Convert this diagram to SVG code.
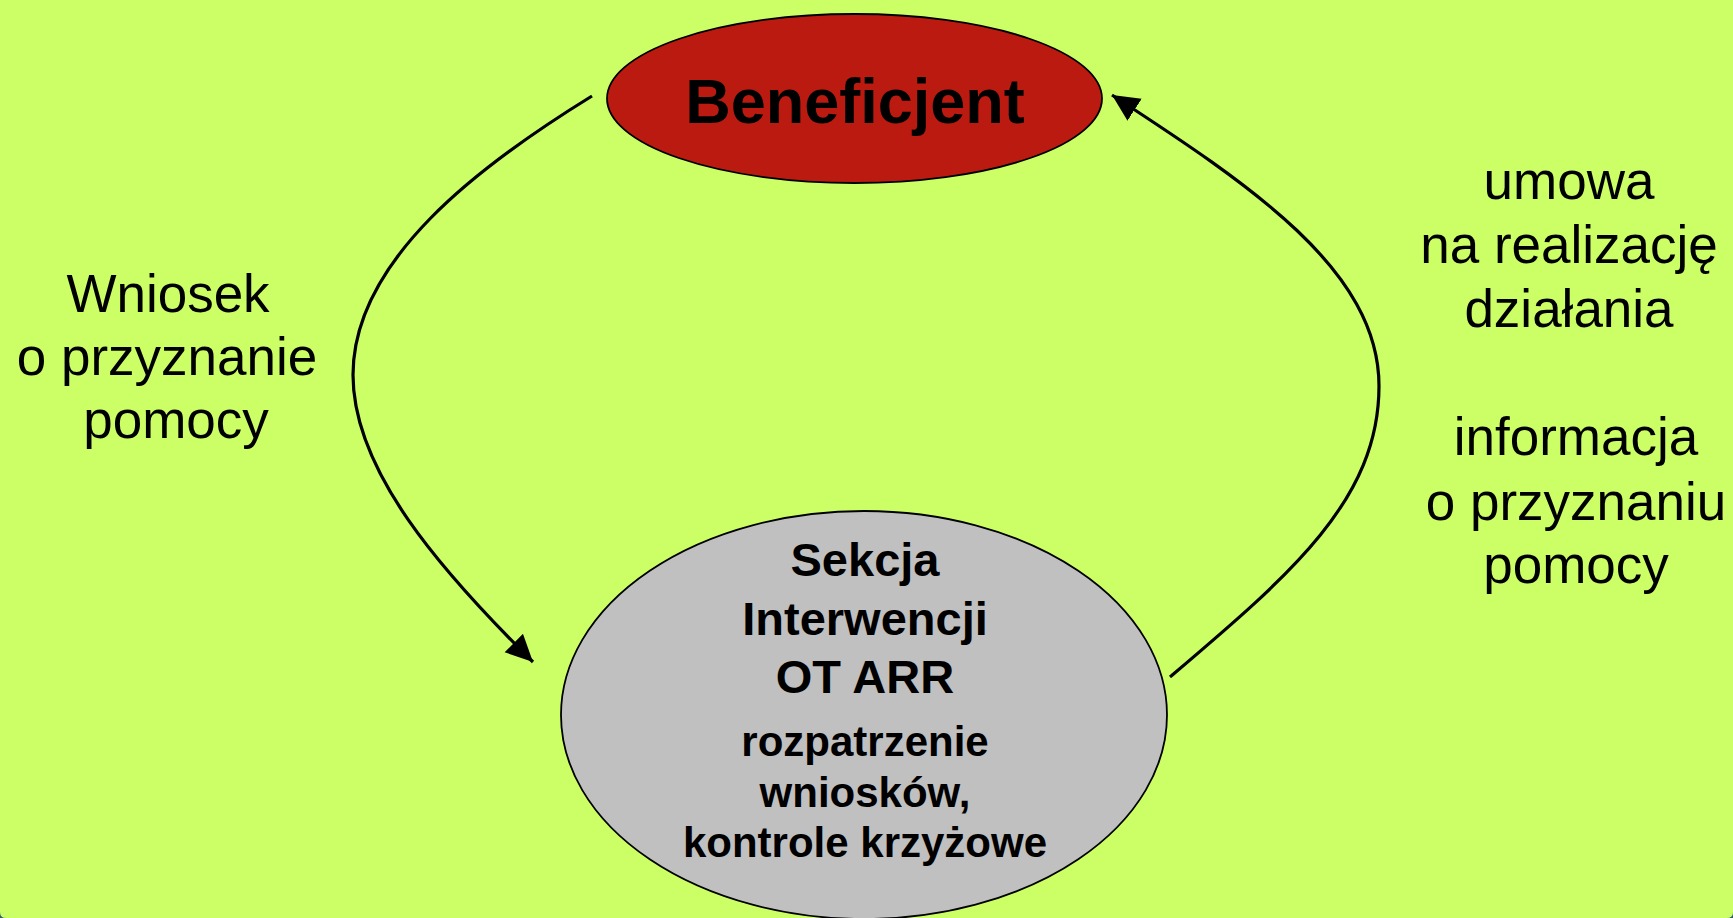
<svg xmlns="http://www.w3.org/2000/svg" width="1733" height="918" viewBox="0 0 1733 918">
<style>
.lbl{font-family:"Liberation Sans",Arial,sans-serif;font-size:53px;fill:#000;text-anchor:middle}
.bold{font-family:"Liberation Sans",Arial,sans-serif;font-weight:bold;fill:#000;text-anchor:middle}
.conn{fill:none;stroke:#000;stroke-width:3.2}
.node{stroke:#000;stroke-width:1.8}
</style>
<defs>
<marker id="arrow" markerUnits="userSpaceOnUse" markerWidth="30" markerHeight="28" refX="27" refY="13" orient="auto">
<path d="M0,0 L27,13 L0,26 z" fill="#000"/>
</marker>
</defs>
<rect x="0" y="0" width="1733" height="918" fill="#2E5E6E"/>
<path d="M0,0 H1733 V912 Q1733,918 1727,918 H6 Q0,918 0,912 Z" fill="#CCFF66"/>
<g id="connectors">
<path class="conn" d="M592,96 C480,165 353,260 353,375 C353,470 440,570 533,662" marker-end="url(#arrow)"/>
<path class="conn" d="M1170,677 C1290,575 1379,500 1379,386 C1379,270 1250,185 1112,95" marker-end="url(#arrow)"/>
</g>
<g id="beneficjent">
<ellipse class="node" cx="854.5" cy="98.5" rx="247.5" ry="84.5" fill="#BB1A11"/>
<text class="bold" x="855" y="123" font-size="63">Beneficjent</text>
</g>
<g id="sekcja">
<ellipse class="node" cx="864" cy="715" rx="303" ry="204" fill="#C0C0C0"/>
<text class="bold" x="865" y="576" font-size="47">Sekcja</text>
<text class="bold" x="865" y="635" font-size="47">Interwencji</text>
<text class="bold" x="865" y="693" font-size="47">OT ARR</text>
<text class="bold" x="865" y="756" font-size="42">rozpatrzenie</text>
<text class="bold" x="865" y="807" font-size="42">wniosków,</text>
<text class="bold" x="865" y="857" font-size="42">kontrole krzyżowe</text>
</g>
<g id="label-left">
<text class="lbl" x="168" y="312">Wniosek</text>
<text class="lbl" x="167" y="375">o przyznanie</text>
<text class="lbl" x="176" y="438">pomocy</text>
</g>
<g id="label-right">
<text class="lbl" x="1569" y="199">umowa</text>
<text class="lbl" x="1569" y="263">na realizację</text>
<text class="lbl" x="1569" y="327">działania</text>
<text class="lbl" x="1576" y="455">informacja</text>
<text class="lbl" x="1576" y="520">o przyznaniu</text>
<text class="lbl" x="1576" y="583">pomocy</text>
</g>
</svg>
